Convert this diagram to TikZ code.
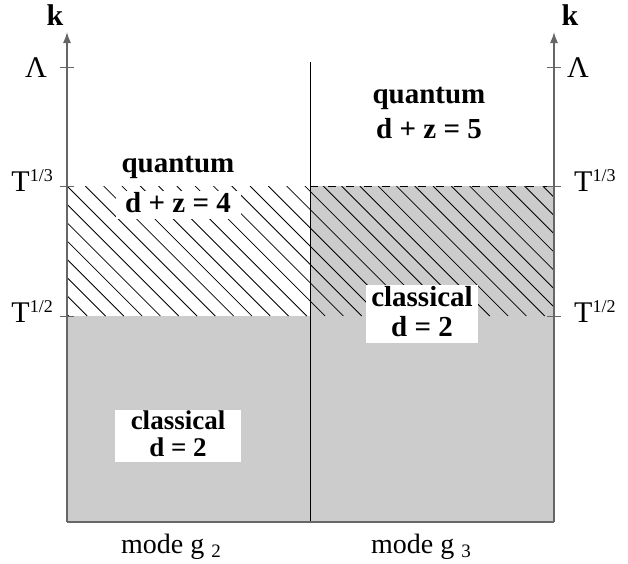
\documentclass[tikz,border=0pt]{standalone}
\usepackage{fontspec}
\setmainfont{Liberation Serif}
\usetikzlibrary{arrows.meta}
\definecolor{regiongray}{gray}{0.8}
\definecolor{axisgray}{gray}{0.4}
\tikzset{
  axisline/.style={draw=axisgray, line width=1.4pt, -{Latex[length=11pt,width=8pt]}},
  tickline/.style={draw=axisgray, line width=1pt},
  hatchline/.style={draw=black, line width=0.8pt},
  lbl/.style={font=\fontsize{30}{30}\selectfont, inner sep=0pt, anchor=base},
  blbl/.style={font=\fontsize{29}{29}\selectfont\bfseries, inner sep=0pt, anchor=base},
  sblbl/.style={font=\fontsize{27}{27}\selectfont\bfseries, inner sep=0pt, anchor=base},
  klbl/.style={font=\fontsize{30}{30}\selectfont\bfseries, inner sep=0pt, anchor=base},
  modelbl/.style={font=\fontsize{28}{28}\selectfont, inner sep=0pt, anchor=base},
  whitebox/.style={fill=white, draw=none},
}
\newcommand{\supsc}[1]{\raisebox{10pt}{\fontsize{18}{18}\selectfont #1}}
\newcommand{\subsc}[1]{\raisebox{-4pt}{\fontsize{19}{19}\selectfont #1}}
\begin{document}
\begin{tikzpicture}[x=1pt,y=-1pt]
\useasboundingbox (0,0) rectangle (628,563);
% coordinates
\coordinate (LB) at (67,522);
\coordinate (LT) at (67,32);
\coordinate (RB) at (554,522);
\coordinate (RT) at (554,32);
\coordinate (MB) at (310,522);
\coordinate (MT) at (310,62);
% shaded regions
\fill[regiongray] (67,316) rectangle (554,522);
\fill[regiongray] (310,186) rectangle (554,316);
% hatching
\begin{scope}
  \clip (67,186) rectangle (554,316);
  \foreach \i in {-8,...,27} \draw[hatchline] (67+\i*18.3,186) -- ++(130,130);
\end{scope}
% dashed top of right hatched block
\draw[black, line width=0.8pt, dash pattern=on 8pt off 10pt] (310,186) -- (554,186);
% white label boxes
\fill[whitebox] (116,191) rectangle (241,219);
\fill[whitebox] (366,285) rectangle (478,343);
\fill[whitebox] (115,410) rectangle (241,462);
% middle line
\draw[black, line width=1pt] (MT) -- (MB);
% bottom line
\draw[axisgray, line width=1.4pt] (LB) -- (RB);
% axes
\draw[axisline] (LB) -- (LT);
\draw[axisline] (RB) -- (RT);
% ticks
\foreach \y in {67,186,316} {
  \draw[tickline] (60,\y) -- (74,\y);
  \draw[tickline] (547,\y) -- (561,\y);
}
% axis labels
\node[klbl] (kL) at (55,25) {k};
\node[klbl] (kR) at (570,25) {k};
\node[lbl] (lamL) at (36,77) {Λ};
\node[lbl] (lamR) at (578,77) {Λ};
\node[lbl, anchor=base east] (t3L) at (53,191) {T\supsc{1/3}};
\node[lbl, anchor=base east] (t2L) at (53,322) {T\supsc{1/2}};
\node[lbl, anchor=base west] (t3R) at (574,191) {T\supsc{1/3}};
\node[lbl, anchor=base west] (t2R) at (574,322) {T\supsc{1/2}};
% region labels
\node[blbl] (q4a) at (178,172) {quantum};
\node[blbl] (q4b) at (178,212) {d + z = 4};
\node[blbl] (q5a) at (429,103) {quantum};
\node[blbl] (q5b) at (429,138) {d + z = 5};
\node[blbl] (c3a) at (422,306) {classical};
\node[blbl] (c3b) at (422,336) {d = 2};
\node[sblbl] (c2a) at (178,429) {classical};
\node[sblbl] (c2b) at (178,456) {d = 2};
% mode labels
\node[modelbl] (m2) at (171,553) {mode g \subsc{2}};
\node[modelbl] (m3) at (421,553) {mode g \subsc{3}};
\end{tikzpicture}
\end{document}
